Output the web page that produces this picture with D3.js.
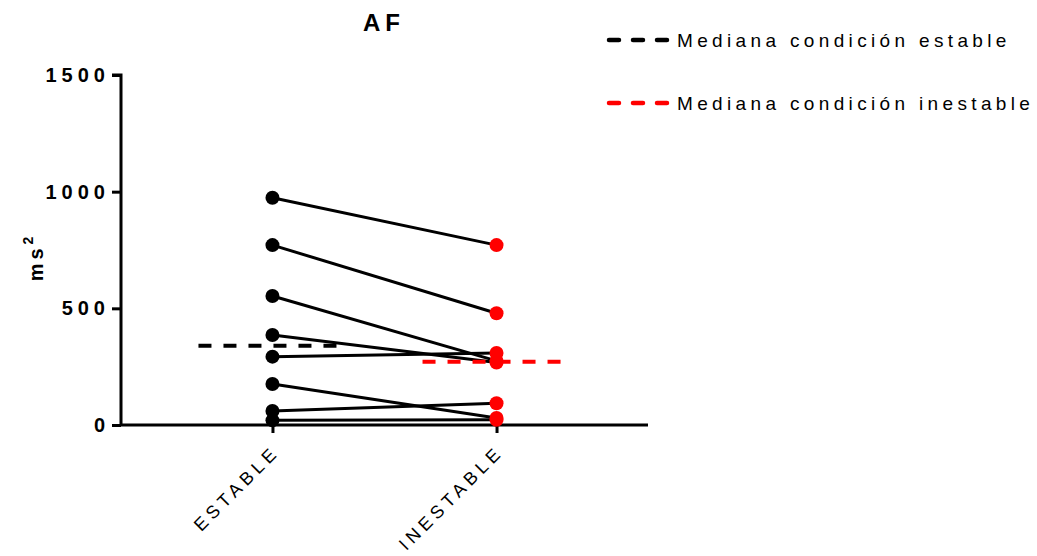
<!doctype html>
<html>
<head>
<meta charset="UTF-8">
<title>AF</title>
<script src="https://d3js.org/d3.v7.min.js"></script>
<style>
  body { margin: 0; background: #fff; }
  text { font-family: "Liberation Sans", Arial, sans-serif; }
</style>
</head>
<body>
<script>
// categories and paired values (ms^2)
var categories = ["ESTABLE", "INESTABLE"];
var estable   = [974, 771, 553, 386, 293, 176, 60, 20];
var inestable = [771, 479, 275, 268, 309, 30, 93, 22];
var yTicks = [0, 500, 1000, 1500];
var legendLabels = ["Mediana condición estable", "Mediana condición inestable"];
var colors = ["#000000", "#ff0000"];

var W = 1037, H = 556;
var svg = d3.select("body").append("svg")
    .attr("width", W).attr("height", H);

// scales
var x = d3.scalePoint().domain(categories).range([121, 648]).padding(0.676);
var y = d3.scaleLinear().domain([0, 1500]).range([425, 75]);

// title
svg.append("text")
    .attr("x", 384).attr("y", 31)
    .attr("text-anchor", "middle")
    .style("font-size", "24px").style("font-weight", "bold")
    .style("letter-spacing", "5px")
    .text("AF");

// y axis
var yAxis = svg.append("g")
    .attr("transform", "translate(121,0)")
    .call(d3.axisLeft(y).tickValues(yTicks).tickSize(9).tickPadding(2).tickFormat(d3.format("d")));
yAxis.select(".domain").attr("stroke-width", 3).attr("d", "M-9," + y(1500) + "H0V" + y(0));
yAxis.selectAll(".tick line").attr("stroke-width", 3);
yAxis.selectAll(".tick text")
    .style("font-size", "20px").style("font-weight", "bold")
    .style("letter-spacing", "5px")
    .attr("fill", "#000");

// y title
var yt = svg.append("text")
    .attr("transform", "translate(43,257)rotate(-90)")
    .attr("text-anchor", "middle")
    .style("font-size", "20px").style("font-weight", "bold")
    .style("letter-spacing", "4px");
yt.append("tspan").text("ms");
yt.append("tspan").attr("dy", "-10").style("font-size", "14px").text("2");

// x axis
var xAxis = svg.append("g")
    .attr("transform", "translate(0,425)")
    .call(d3.axisBottom(x).tickSize(8).tickFormat(""));
xAxis.select(".domain").attr("stroke-width", 3).attr("d", "M121,0H648");
xAxis.selectAll(".tick line").attr("stroke-width", 3);

svg.selectAll(".xlab").data(categories).enter().append("text")
    .attr("class", "xlab")
    .attr("text-anchor", "end")
    .attr("transform", function(d) { return "translate(" + (x(d) + 8) + ",453)rotate(-45)"; })
    .style("font-size", "18px")
    .style("letter-spacing", "4.6px")
    .text(function(d) { return d; });

// paired lines
var pairs = estable.map(function(v, i) { return [v, inestable[i]]; });
svg.selectAll(".pair").data(pairs).enter().append("line")
    .attr("class", "pair")
    .attr("x1", x(categories[0])).attr("x2", x(categories[1]))
    .attr("y1", function(d) { return y(d[0]); })
    .attr("y2", function(d) { return y(d[1]); })
    .attr("stroke", "#000").attr("stroke-width", 3);

// medians
var groups = [estable, inestable];
svg.selectAll(".median").data(groups).enter().append("line")
    .attr("class", "median")
    .attr("x1", function(d, i) { return x(categories[i]) - 74; })
    .attr("x2", function(d, i) { return x(categories[i]) + 70; })
    .attr("y1", function(d) { return y(d3.median(d)); })
    .attr("y2", function(d) { return y(d3.median(d)); })
    .attr("stroke", function(d, i) { return colors[i]; })
    .attr("stroke-width", 4)
    .attr("stroke-dasharray", "13,12");

// dots
groups.forEach(function(g, i) {
    svg.selectAll(".dot" + i).data(g).enter().append("circle")
        .attr("class", "dot" + i)
        .attr("cx", x(categories[i]))
        .attr("cy", function(d) { return y(d); })
        .attr("r", 7)
        .attr("fill", colors[i]);
});

// legend
var leg = svg.selectAll(".leg").data(legendLabels).enter().append("g")
    .attr("class", "leg")
    .attr("transform", function(d, i) { return "translate(607," + (40 + i * 63) + ")"; });
leg.append("line")
    .attr("x1", 2).attr("x2", 61).attr("y1", 0).attr("y2", 0)
    .attr("stroke", function(d, i) { return colors[i]; })
    .attr("stroke-width", 4.5)
    .attr("stroke-linecap", "round")
    .attr("stroke-dasharray", "10,14");
leg.append("text")
    .attr("x", 70).attr("y", 7)
    .style("font-size", "19px")
    .style("letter-spacing", "4.35px")
    .text(function(d) { return d; });
</script>
</body>
</html>
